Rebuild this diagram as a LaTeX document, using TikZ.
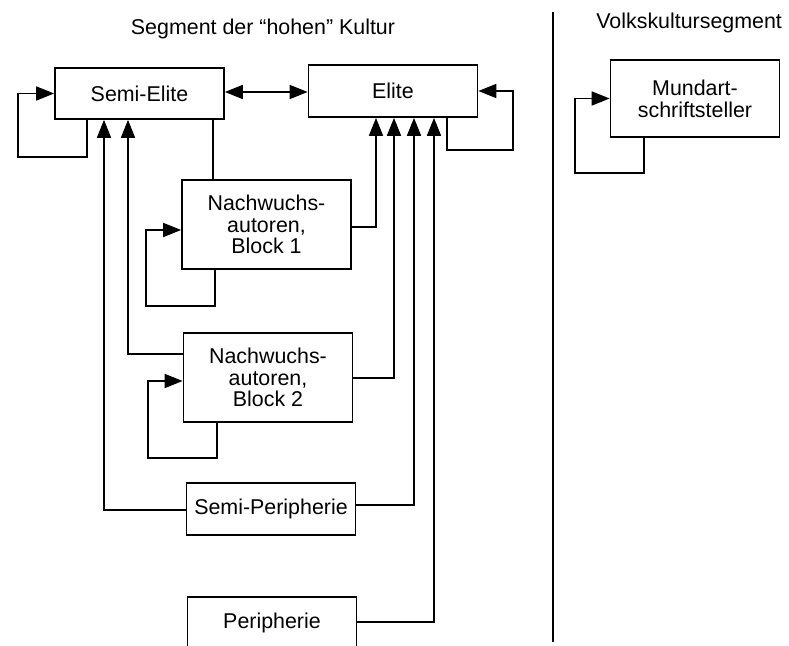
\documentclass[tikz,border=0pt]{standalone}
\usepackage{fontspec}
\setmainfont{Liberation Sans}
\usetikzlibrary{arrows.meta,positioning}
\tikzset{
  box/.style={draw, line width=0.85pt, align=center, inner sep=2pt,
    font=\fontsize{10.7}{10.9}\selectfont, minimum width=84.5pt},
  conn/.style={line width=0.85pt},
  tip/.tip={Triangle[length=9pt,width=7pt]},
  arr/.style={conn, -tip}
}
\begin{document}
\begin{tikzpicture}[x=0.5pt, y=-0.5pt]
    \useasboundingbox (0,0) rectangle (789,646);

    % Headings and divider
    \node[font=\fontsize{10.7}{12}\selectfont] (hoch) at (263,29) {Segment der “hohen” Kultur};
    \node[font=\fontsize{10.7}{12}\selectfont, anchor=east] (volk) at (789,23) {Volkskultursegment};
    \coordinate (divtop) at (553,12);
    \coordinate (divbot) at (553,642);
    \draw[conn] (divtop) -- (divbot);

    % Boxes of the high culture segment
    \node[box, minimum height=25.5pt] (semielite) at (139.5,93.5) {Semi-Elite};
    \node[box, minimum height=26pt] (elite) at (393,91) {Elite};
    \node[box, minimum height=44.5pt] (block1) at (266.5,224.5)
      {Nachwuchs-\\autoren,\\Block 1};
    \node[box, minimum height=44.5pt] (block2) at (268,377.5)
      {Nachwuchs-\\autoren,\\Block 2};
    \node[box, minimum height=26pt] (semiper) at (271,509) {Semi-Peripherie};
    \node[box, minimum height=26pt] (periph) at (272,623) {Peripherie};

    % Folk culture segment
    \node[box, minimum height=38.5pt] (mundart) at (695,98.5)
      {Mundart-\\schriftsteller};

    % Self loops
    \draw[arr] (semielite.south -| 87,0) |- (18,157) |- (semielite.west);
    \draw[arr] (elite.south -| 447,0) |- (513,150) |- (elite.east);
    \draw[arr] (block1.south -| 215,0) |- (146,306) |- (block1.west |- 0,230);
    \draw[arr] (block2.south -| 217,0) |- (148,458) |- (block2.west |- 0,381);
    \draw[arr] (mundart.south -| 644,0) |- (575,173) |- (mundart.west);

    % Between the two top groups
    \draw[conn, tip-tip] (semielite.east |- 0,92) -- (elite.west |- 0,92);

    % Links up to Semi-Elite
    \draw[conn] (block1.north -| 213,0) -- (semielite.south -| 213,0);
    \draw[arr] (block2.west |- 0,354) -| (semielite.south -| 128,0);
    \draw[arr] (semiper.west |- 0,510) -| (semielite.south -| 104,0);

    % Links up to Elite
    \draw[arr] (block1.east |- 0,227) -| (elite.south -| 376,0);
    \draw[arr] (block2.east |- 0,378) -| (elite.south -| 394,0);
    \draw[arr] (semiper.east |- 0,505) -| (elite.south -| 414,0);
    \draw[arr] (periph.east |- 0,622) -| (elite.south -| 434,0);
\end{tikzpicture}
\end{document}
